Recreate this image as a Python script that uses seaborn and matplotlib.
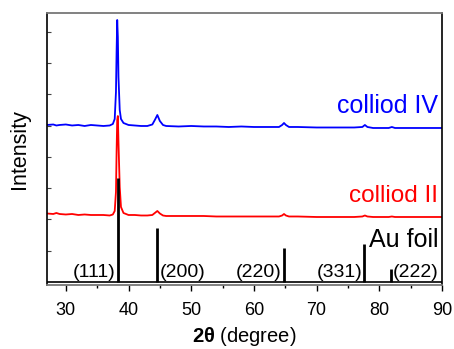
import numpy as np
import pandas as pd
import matplotlib
matplotlib.use("Agg")
import matplotlib.pyplot as plt
import seaborn as sns
from matplotlib.ticker import MultipleLocator

# ---- data (intensity in arbitrary units) ----
two_theta = [27, 28, 28.5, 29, 30, 31, 32, 33, 34, 35, 36, 37, 37.5, 37.8, 38.0, 38.1,
             38.2, 38.3, 38.4, 38.6, 38.8, 39.2, 40, 41, 42, 43, 43.8, 44.2, 44.6, 45.0,
             45.5, 46, 48, 50, 52, 54, 56, 58, 60, 62, 64, 64.5, 64.8, 65.1, 65.6, 67,
             70, 72, 74, 76, 77.3, 77.7, 78.1, 79, 81.5, 82, 82.5, 84, 86, 88, 90]

colloid_iv = [157, 157.5, 156.5, 157, 157.5, 156.5, 157, 156, 157, 156.5, 156, 156.5, 158,
              163, 190, 230, 262, 245, 205, 172, 163, 159, 157, 156.5, 156, 156, 157.5,
              162, 167, 161, 157, 156, 155.5, 156, 155.5, 155.5, 155, 155.5, 155, 155, 155,
              157, 159, 157, 155, 155, 154.5, 154.5, 154.5, 154.5, 155, 157, 155, 154, 154,
              155, 154, 154, 154, 154, 154]

colloid_ii = [68.5, 68, 69, 68, 67.5, 68, 67, 67.5, 67, 67, 67, 66.5, 67.5, 71, 90, 130,
              162, 166, 140, 95, 75, 69, 67, 67, 66.5, 66.5, 67, 69, 71, 68.5, 66.5, 66, 66,
              66, 66, 65.5, 65.5, 65.5, 65.5, 65.5, 65.5, 66.5, 68, 66.5, 65.5, 65.5, 65, 65,
              65, 65, 65.5, 66.5, 65.5, 65, 65, 65.5, 65, 65, 65, 65, 65]

au_pos = [38.3, 44.6, 64.8, 77.6, 81.8]
au_int = [104, 54, 34, 38, 13]
au_hkl = ["(111)", "(200)", "(220)", "(331)", "(222)"]

x_ticks = [30, 40, 50, 60, 70, 80, 90]

# ---- style ----
sns.set_theme(style="white")
plt.rcParams["font.family"] = ["Liberation Sans", "DejaVu Sans"]
plt.rcParams["mathtext.fontset"] = "custom"
plt.rcParams["mathtext.rm"] = "Liberation Sans"
plt.rcParams["mathtext.bf"] = "Liberation Sans:bold"
plt.rcParams["text.color"] = "black"
plt.rcParams["axes.labelcolor"] = "black"
plt.rcParams["xtick.color"] = "black"
plt.rcParams["ytick.color"] = "black"

fig = plt.figure(figsize=(4.54, 3.49), dpi=100)
ax = fig.add_axes([0.1035, 0.1834, 0.8701, 0.7794])

df = pd.DataFrame({"x": two_theta, "iv": colloid_iv, "ii": colloid_ii})
sns.lineplot(data=df, x="x", y="iv", ax=ax, color="#0000ff", lw=1.3)
sns.lineplot(data=df, x="x", y="ii", ax=ax, color="#ff0000", lw=1.3)

ax.vlines(au_pos, 0, au_int, color="black", lw=2)
ax.axhline(0, color="black", lw=1.2)

label_dx = [-0.35, 0.35, -0.35, -0.35, 0.35]
for p, h, dx in zip(au_pos, au_hkl, label_dx):
    ax.text(p + dx, 5, h, ha="right" if dx < 0 else "left", va="baseline", fontsize=14)

ax.text(89.4, 35, "Au foil", ha="right", va="baseline", fontsize=18, color="black")
ax.text(89.4, 80, "colliod II", ha="right", va="baseline", fontsize=17.5, color="#ff0000")
ax.text(89.4, 169, "colliod IV", ha="right", va="baseline", fontsize=18, color="#0000ff")

ax.set_xlim(27, 90)
ax.set_ylim(-3, 269)
ax.set_xticks(x_ticks)
ax.xaxis.set_minor_locator(MultipleLocator(5))
ax.set_yticks(np.arange(31.25, 260, 31.25))
ax.tick_params(axis="y", which="major", direction="in", length=3, width=0.8,
               left=True, labelleft=False, color="#444444")
ax.tick_params(axis="x", which="major", direction="out", length=4, width=1,
               bottom=True, labelsize=13, pad=8, color="black")
ax.tick_params(axis="x", which="minor", direction="out", length=2.5, width=1,
               bottom=True, color="black")

ax.set_xlabel("$\\mathbf{2θ}$ (degree)", fontsize=14.5, labelpad=4.5)
ax.set_ylabel("Intensity", fontsize=15.5, labelpad=12)

for s in ["left", "right"]:
    ax.spines[s].set_color("black")
    ax.spines[s].set_linewidth(1.2)
for s in ["top", "bottom"]:
    ax.spines[s].set_color("#777777")
    ax.spines[s].set_linewidth(1.3)

fig.savefig("out.png", dpi=100)
